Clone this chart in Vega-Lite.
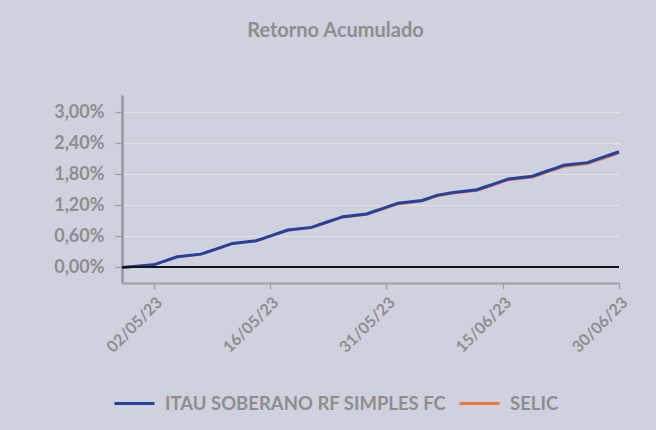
{
  "$schema": "https://vega.github.io/schema/vega-lite/v6.json",
  "width": 497,
  "height": 188,
  "autosize": {"type": "none"},
  "padding": {"left": 122, "top": 95, "right": 37, "bottom": 147},
  "background": "#cfd1de",
  "title": {"text": "Retorno Acumulado", "anchor": "middle", "dx": -35, "offset": 54, "font": "Lato", "fontSize": 20, "fontWeight": "bold", "color": "#8e8e8e"},
  "config": {"view": {"stroke": null}, "font": "Lato"},
  "datasets": {
    "ret": [
      {"d": "2023-04-28", "s": "ITAU SOBERANO RF SIMPLES FC", "v": 0},
      {"d": "2023-05-02", "s": "ITAU SOBERANO RF SIMPLES FC", "v": 0.000514},
      {"d": "2023-05-03", "s": "ITAU SOBERANO RF SIMPLES FC", "v": 0.001028},
      {"d": "2023-05-04", "s": "ITAU SOBERANO RF SIMPLES FC", "v": 0.001543},
      {"d": "2023-05-05", "s": "ITAU SOBERANO RF SIMPLES FC", "v": 0.002058},
      {"d": "2023-05-08", "s": "ITAU SOBERANO RF SIMPLES FC", "v": 0.002573},
      {"d": "2023-05-09", "s": "ITAU SOBERANO RF SIMPLES FC", "v": 0.003089},
      {"d": "2023-05-10", "s": "ITAU SOBERANO RF SIMPLES FC", "v": 0.003604},
      {"d": "2023-05-11", "s": "ITAU SOBERANO RF SIMPLES FC", "v": 0.004120},
      {"d": "2023-05-12", "s": "ITAU SOBERANO RF SIMPLES FC", "v": 0.004636},
      {"d": "2023-05-15", "s": "ITAU SOBERANO RF SIMPLES FC", "v": 0.005153},
      {"d": "2023-05-16", "s": "ITAU SOBERANO RF SIMPLES FC", "v": 0.005669},
      {"d": "2023-05-17", "s": "ITAU SOBERANO RF SIMPLES FC", "v": 0.006186},
      {"d": "2023-05-18", "s": "ITAU SOBERANO RF SIMPLES FC", "v": 0.006703},
      {"d": "2023-05-19", "s": "ITAU SOBERANO RF SIMPLES FC", "v": 0.007221},
      {"d": "2023-05-22", "s": "ITAU SOBERANO RF SIMPLES FC", "v": 0.007739},
      {"d": "2023-05-23", "s": "ITAU SOBERANO RF SIMPLES FC", "v": 0.008257},
      {"d": "2023-05-24", "s": "ITAU SOBERANO RF SIMPLES FC", "v": 0.008775},
      {"d": "2023-05-25", "s": "ITAU SOBERANO RF SIMPLES FC", "v": 0.009293},
      {"d": "2023-05-26", "s": "ITAU SOBERANO RF SIMPLES FC", "v": 0.009812},
      {"d": "2023-05-29", "s": "ITAU SOBERANO RF SIMPLES FC", "v": 0.010332},
      {"d": "2023-05-30", "s": "ITAU SOBERANO RF SIMPLES FC", "v": 0.010851},
      {"d": "2023-05-31", "s": "ITAU SOBERANO RF SIMPLES FC", "v": 0.011371},
      {"d": "2023-06-01", "s": "ITAU SOBERANO RF SIMPLES FC", "v": 0.011890},
      {"d": "2023-06-02", "s": "ITAU SOBERANO RF SIMPLES FC", "v": 0.012410},
      {"d": "2023-06-05", "s": "ITAU SOBERANO RF SIMPLES FC", "v": 0.012930},
      {"d": "2023-06-06", "s": "ITAU SOBERANO RF SIMPLES FC", "v": 0.013451},
      {"d": "2023-06-07", "s": "ITAU SOBERANO RF SIMPLES FC", "v": 0.013973},
      {"d": "2023-06-09", "s": "ITAU SOBERANO RF SIMPLES FC", "v": 0.014494},
      {"d": "2023-06-12", "s": "ITAU SOBERANO RF SIMPLES FC", "v": 0.015015},
      {"d": "2023-06-13", "s": "ITAU SOBERANO RF SIMPLES FC", "v": 0.015536},
      {"d": "2023-06-14", "s": "ITAU SOBERANO RF SIMPLES FC", "v": 0.016058},
      {"d": "2023-06-15", "s": "ITAU SOBERANO RF SIMPLES FC", "v": 0.016581},
      {"d": "2023-06-16", "s": "ITAU SOBERANO RF SIMPLES FC", "v": 0.017103},
      {"d": "2023-06-19", "s": "ITAU SOBERANO RF SIMPLES FC", "v": 0.017626},
      {"d": "2023-06-20", "s": "ITAU SOBERANO RF SIMPLES FC", "v": 0.018149},
      {"d": "2023-06-21", "s": "ITAU SOBERANO RF SIMPLES FC", "v": 0.018672},
      {"d": "2023-06-22", "s": "ITAU SOBERANO RF SIMPLES FC", "v": 0.019196},
      {"d": "2023-06-23", "s": "ITAU SOBERANO RF SIMPLES FC", "v": 0.019719},
      {"d": "2023-06-26", "s": "ITAU SOBERANO RF SIMPLES FC", "v": 0.020243},
      {"d": "2023-06-27", "s": "ITAU SOBERANO RF SIMPLES FC", "v": 0.020767},
      {"d": "2023-06-28", "s": "ITAU SOBERANO RF SIMPLES FC", "v": 0.021292},
      {"d": "2023-06-29", "s": "ITAU SOBERANO RF SIMPLES FC", "v": 0.021817},
      {"d": "2023-06-30", "s": "ITAU SOBERANO RF SIMPLES FC", "v": 0.022342},
      {"d": "2023-04-28", "s": "SELIC", "v": 0},
      {"d": "2023-05-02", "s": "SELIC", "v": 0.000508},
      {"d": "2023-05-03", "s": "SELIC", "v": 0.001016},
      {"d": "2023-05-04", "s": "SELIC", "v": 0.001525},
      {"d": "2023-05-05", "s": "SELIC", "v": 0.002034},
      {"d": "2023-05-08", "s": "SELIC", "v": 0.002543},
      {"d": "2023-05-09", "s": "SELIC", "v": 0.003052},
      {"d": "2023-05-10", "s": "SELIC", "v": 0.003561},
      {"d": "2023-05-11", "s": "SELIC", "v": 0.004071},
      {"d": "2023-05-12", "s": "SELIC", "v": 0.004581},
      {"d": "2023-05-15", "s": "SELIC", "v": 0.005092},
      {"d": "2023-05-16", "s": "SELIC", "v": 0.005602},
      {"d": "2023-05-17", "s": "SELIC", "v": 0.006113},
      {"d": "2023-05-18", "s": "SELIC", "v": 0.006624},
      {"d": "2023-05-19", "s": "SELIC", "v": 0.007135},
      {"d": "2023-05-22", "s": "SELIC", "v": 0.007647},
      {"d": "2023-05-23", "s": "SELIC", "v": 0.008159},
      {"d": "2023-05-24", "s": "SELIC", "v": 0.008671},
      {"d": "2023-05-25", "s": "SELIC", "v": 0.009183},
      {"d": "2023-05-26", "s": "SELIC", "v": 0.009696},
      {"d": "2023-05-29", "s": "SELIC", "v": 0.010209},
      {"d": "2023-05-30", "s": "SELIC", "v": 0.010722},
      {"d": "2023-05-31", "s": "SELIC", "v": 0.011236},
      {"d": "2023-06-01", "s": "SELIC", "v": 0.011749},
      {"d": "2023-06-02", "s": "SELIC", "v": 0.012263},
      {"d": "2023-06-05", "s": "SELIC", "v": 0.012777},
      {"d": "2023-06-06", "s": "SELIC", "v": 0.013292},
      {"d": "2023-06-07", "s": "SELIC", "v": 0.013807},
      {"d": "2023-06-09", "s": "SELIC", "v": 0.014322},
      {"d": "2023-06-12", "s": "SELIC", "v": 0.014837},
      {"d": "2023-06-13", "s": "SELIC", "v": 0.015352},
      {"d": "2023-06-14", "s": "SELIC", "v": 0.015868},
      {"d": "2023-06-15", "s": "SELIC", "v": 0.016384},
      {"d": "2023-06-16", "s": "SELIC", "v": 0.016900},
      {"d": "2023-06-19", "s": "SELIC", "v": 0.017417},
      {"d": "2023-06-20", "s": "SELIC", "v": 0.017934},
      {"d": "2023-06-21", "s": "SELIC", "v": 0.018451},
      {"d": "2023-06-22", "s": "SELIC", "v": 0.018968},
      {"d": "2023-06-23", "s": "SELIC", "v": 0.019485},
      {"d": "2023-06-26", "s": "SELIC", "v": 0.020003},
      {"d": "2023-06-27", "s": "SELIC", "v": 0.020521},
      {"d": "2023-06-28", "s": "SELIC", "v": 0.021040},
      {"d": "2023-06-29", "s": "SELIC", "v": 0.021558},
      {"d": "2023-06-30", "s": "SELIC", "v": 0.022077}
    ]
  },
  "data": {"name": "ret"},
  "encoding": {
    "y": {
      "field": "v",
      "type": "quantitative",
      "scale": {"domain": [-0.003, 0.0333], "nice": false, "zero": false},
      "axis": {
        "title": null,
        "values": [0, 0.006, 0.012, 0.018, 0.024, 0.03],
        "labelExpr": "replace(format(datum.value, '.2%'), '.', ',')",
        "labelFont": "Lato",
        "labelFontSize": 18,
        "labelFontWeight": "bold",
        "labelColor": "#8e8e8e",
        "labelPadding": 11,
        "domainColor": "#9a9a9a",
        "domainWidth": 2.5,
        "tickColor": "#9a9a9a",
        "tickSize": 7,
        "tickWidth": 1.2,
        "gridColor": "#e4e0dc",
        "gridWidth": 1,
        "gridOpacity": 1
      }
    }
  },
  "layer": [
    {
      "mark": {"type": "line", "strokeWidth": 2.5},
      "transform": [{"filter": "datum.s === 'SELIC'"}],
      "encoding": {
        "x": {
          "field": "d",
          "type": "temporal",
          "scale": {"type": "utc", "domain": [{"year": 2023, "month": 4, "date": 28, "utc": true}, {"year": 2023, "month": 6, "date": 30, "utc": true}], "nice": false},
          "axis": {
            "title": null,
            "grid": false,
            "values": [
              {"year": 2023, "month": 5, "date": 2, "utc": true},
              {"year": 2023, "month": 5, "date": 16, "hours": 18, "utc": true},
              {"year": 2023, "month": 5, "date": 31, "hours": 12, "utc": true},
              {"year": 2023, "month": 6, "date": 15, "hours": 6, "utc": true},
              {"year": 2023, "month": 6, "date": 30, "utc": true}
            ],
            "labelExpr": "utcFormat(datum.value, '%d/%m/%y')",
            "labelAngle": -45,
            "labelFont": "Lato",
            "labelFontSize": 16,
            "labelFontWeight": "bold",
            "labelColor": "#8e8e8e",
            "labelPadding": 5,
            "labelDx": -2,
            "labelDy": -8,
            "domainColor": "#a0a0a0",
            "domainWidth": 2,
            "tickColor": "#a0a0a0",
            "tickSize": 6,
            "tickWidth": 1.2
          }
        },
        "color": {
          "field": "s",
          "type": "nominal",
          "scale": {"domain": ["ITAU SOBERANO RF SIMPLES FC", "SELIC"], "range": ["#2443a0", "#f0773c"]},
          "legend": {
            "orient": "none",
            "legendX": -9,
            "legendY": 287,
            "direction": "horizontal",
            "title": null,
            "symbolType": "stroke",
            "symbolSize": 1600,
            "symbolStrokeWidth": 3,
            "labelFont": "Lato",
            "labelFontSize": 18.5,
            "labelFontWeight": "bold",
            "labelColor": "#8e8e8e",
            "labelOffset": 9,
            "labelLimit": 400,
            "columnPadding": 6
          }
        }
      }
    },
    {
      "mark": {"type": "line", "strokeWidth": 3},
      "transform": [{"filter": "datum.s !== 'SELIC'"}],
      "encoding": {
        "x": {"field": "d", "type": "temporal"},
        "color": {"field": "s", "type": "nominal"}
      }
    },
    {
      "mark": {"type": "rule", "color": "#141414", "strokeWidth": 1.3},
      "encoding": {"y": {"datum": 0, "type": "quantitative"}}
    }
  ]
}
